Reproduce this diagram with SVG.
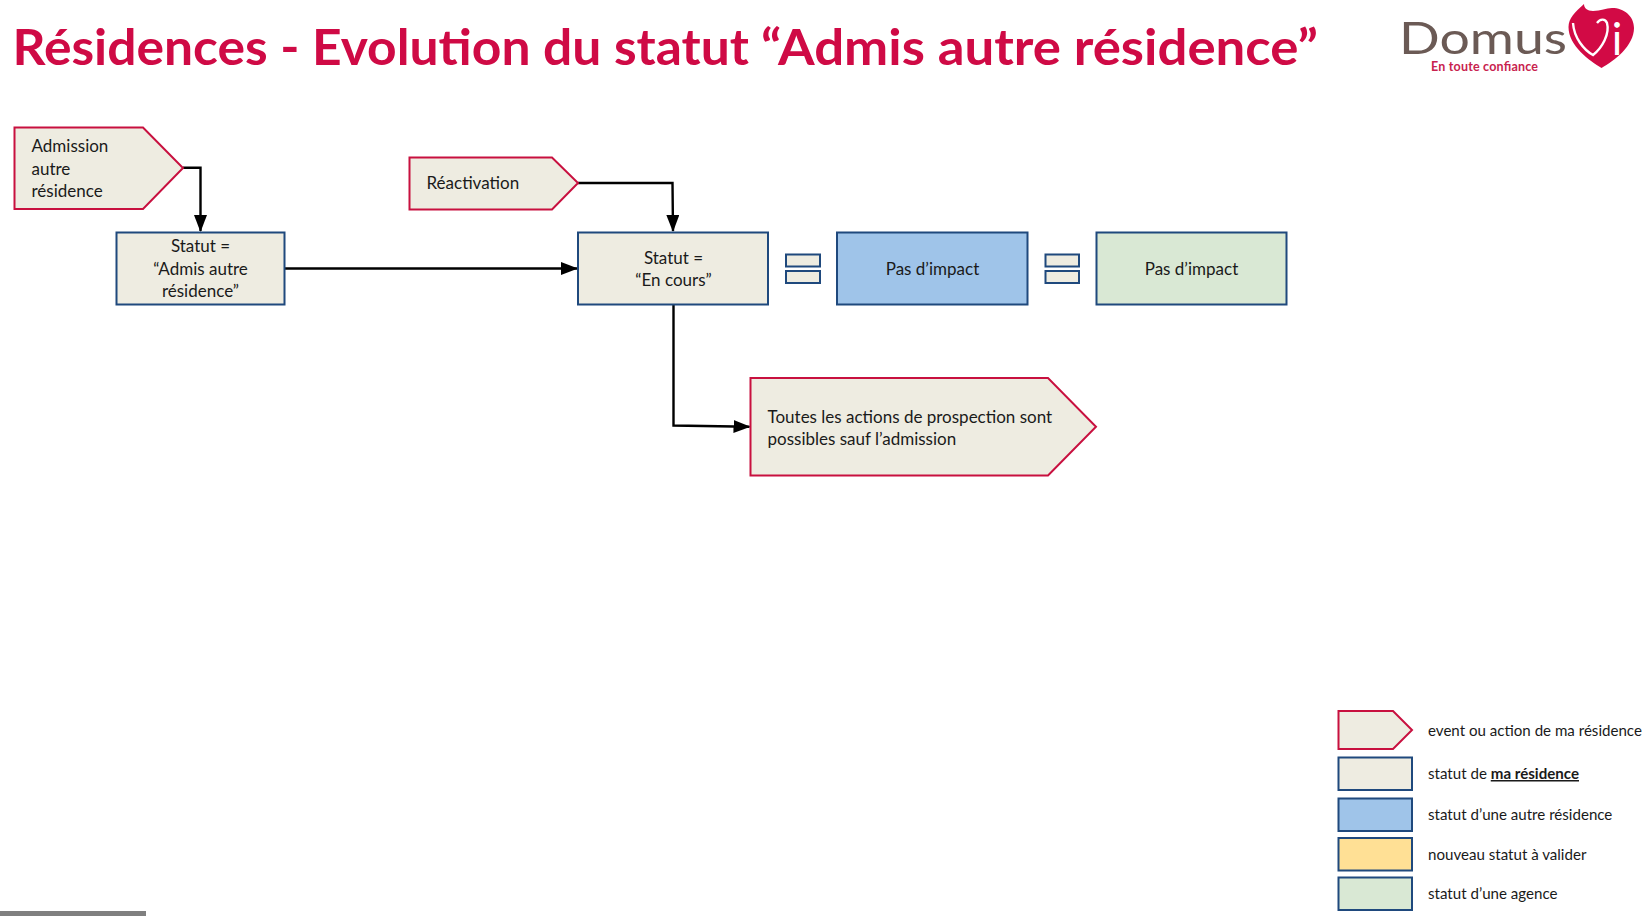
<svg xmlns="http://www.w3.org/2000/svg" width="1652" height="916" viewBox="0 0 1652 916">
<style>
text{font-family:"Lato","Liberation Sans",sans-serif;fill:#1a1a1a;font-size:17px}
.m{text-anchor:middle}
.ev{fill:#eeece1;stroke:#c8103f;stroke-width:2}
.st{fill:#eeece1;stroke:#1f497d;stroke-width:2}
.bl{fill:#9fc4e9;stroke:#1f497d;stroke-width:2}
.ye{fill:#ffe095;stroke:#1f497d;stroke-width:2}
.gr{fill:#d9e8d4;stroke:#1f497d;stroke-width:2}
.c{fill:none;stroke:#000;stroke-width:2.4;marker-end:url(#ah)}
.lg{font-size:15.1px}
</style>
<defs><marker id="ah" markerUnits="userSpaceOnUse" markerWidth="17" markerHeight="13" viewBox="0 0 17 13" refX="16" refY="6.5" orient="auto"><path d="M0,0L17,6.5L0,13Z" fill="#000"/></marker></defs>
<rect width="1652" height="916" fill="#fff"/>
<text id="title" y="65" style="font-size:50px;font-weight:700;fill:#cf0a45"><tspan x="12.5" textLength="749" lengthAdjust="spacingAndGlyphs">Résidences - Evolution du statut </tspan><tspan x="761" textLength="557" lengthAdjust="spacingAndGlyphs">“Admis autre résidence”</tspan></text>
<g id="logo">
<text x="1399" y="54" textLength="168" lengthAdjust="spacingAndGlyphs" style="font-size:45px;font-weight:400;fill:#6b5a55">Domus</text>
<path d="M1601.5,68C1590,61 1568.5,46 1568.5,27C1568.5,18 1575,12 1584,4C1584,8 1587,11 1593,11C1601,11 1606,8 1612,8C1624,8 1634,16 1634,28C1634,46 1614,61 1601.5,68Z" fill="#d20a45"/>
<path d="M1573,23C1574,38 1584,50 1593,55C1602,48 1610,34 1607,23C1605,18 1600,19 1597,23" fill="none" stroke="#fff" stroke-width="2.4"/>
<text x="1617" y="55" class="m" style="font-size:44px;font-weight:400;fill:#fff">i</text>
<text x="1431" y="71" textLength="107" style="font-size:12.5px;font-weight:700;fill:#c8224e">En toute confiance</text>
</g>
<g id="connectors">
<path class="c" d="M183,167.7H200.5V231"/>
<path class="c" d="M578,183H672.5L673,231"/>
<path class="c" d="M284.5,268.5H577"/>
<path class="c" d="M673.5,304V425.5L749.5,426.7"/>
</g>
<g id="n-admission"><path class="ev" d="M14.5,127.5H143L183,168L143,209H14.5Z"/>
<text x="31.5" y="152">Admission</text><text x="31.5" y="174.5">autre</text><text x="31.5" y="197">résidence</text></g>
<g id="n-reactivation"><path class="ev" d="M409.5,157.5H552L578,183L552,209.5H409.5Z"/>
<text x="426.5" y="189">Réactivation</text></g>
<g id="n-statut-admis"><rect class="st" x="116.5" y="232.5" width="168" height="72"/>
<text class="m" x="200.5" y="252">Statut =</text><text class="m" x="200.5" y="274.5">“Admis autre</text><text class="m" x="200.5" y="297">résidence”</text></g>
<g id="n-statut-encours"><rect class="st" x="578" y="232.5" width="190" height="72"/>
<text class="m" x="673.5" y="263.5">Statut =</text><text class="m" x="673.5" y="286">“En cours”</text></g>
<g id="n-eq1"><rect class="st" x="786" y="254.5" width="34" height="12"/><rect class="st" x="786" y="271" width="34" height="12"/></g>
<g id="n-impact-residence"><rect class="bl" x="837" y="232.5" width="190.5" height="72"/><text class="m" x="932.5" y="274.5">Pas d’impact</text></g>
<g id="n-eq2"><rect class="st" x="1045.5" y="254.5" width="33.5" height="12"/><rect class="st" x="1045.5" y="271" width="33.5" height="12"/></g>
<g id="n-impact-agence"><rect class="gr" x="1096.5" y="232.5" width="190" height="72"/><text class="m" x="1191.5" y="274.5">Pas d’impact</text></g>
<g id="n-actions"><path class="ev" d="M750.5,378H1048L1096,426.7L1048,475.5H750.5Z"/>
<text x="767.5" y="422.5">Toutes les actions de prospection sont</text><text x="767.5" y="445">possibles sauf l’admission</text></g>
<g id="legend">
<path class="ev" d="M1338.5,711H1393L1412,730L1393,749H1338.5Z"/><text class="lg" x="1428" y="736">event ou action de ma résidence</text>
<rect class="st" x="1338.5" y="757.5" width="73.5" height="32.5"/><text class="lg" x="1428" y="779">statut de <tspan style="font-weight:700" text-decoration="underline">ma résidence</tspan></text>
<rect class="bl" x="1338.5" y="798.5" width="73.5" height="32.5"/><text class="lg" x="1428" y="820">statut d’une autre résidence</text>
<rect class="ye" x="1338.5" y="838" width="73.5" height="32.5"/><text class="lg" x="1428" y="860">nouveau statut à valider</text>
<rect class="gr" x="1338.5" y="877.5" width="73.5" height="32.5"/><text class="lg" x="1428" y="899">statut d’une agence</text>
</g>
<rect id="bar" x="0" y="911" width="146" height="5" fill="#808080"/>
</svg>
